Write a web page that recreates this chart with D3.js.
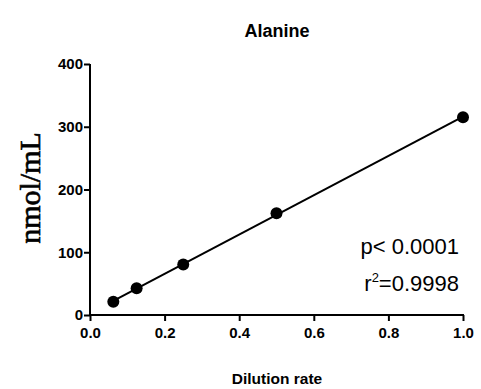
<!DOCTYPE html>
<html><head><meta charset="utf-8">
<script src="https://cdn.jsdelivr.net/npm/d3@7"></script>
<style>body{margin:0;background:#fff}svg{display:block}</style>
</head><body>
<script>
const xValues = [0.0625, 0.125, 0.25, 0.5, 1.0];
const yValues = [21, 42.5, 80.5, 162, 315];
const xTicks = [0, 0.2, 0.4, 0.6, 0.8, 1.0];
const yTicks = [0, 100, 200, 300, 400];
const title = "Alanine";
const xLabel = "Dilution rate";
const yLabel = "nmol/mL";
const statLines = ["p< 0.0001", "0.9998"];

const W = 481, H = 389;
const svg = d3.select("body").append("svg").attr("width", W).attr("height", H);
const x = d3.scaleLinear().domain([0, 1]).range([90, 463]);
const y = d3.scaleLinear().domain([0, 400]).range([315, 64]);
const font = "'Liberation Sans', Arial, sans-serif";

const xa = svg.append("g").attr("transform", "translate(0,315)")
  .call(d3.axisBottom(x).tickValues(xTicks).tickFormat(d3.format(".1f")).tickSizeOuter(0).tickSize(6).tickPadding(6));
const ya = svg.append("g").attr("transform", "translate(90,0)")
  .call(d3.axisLeft(y).tickValues(yTicks).tickFormat(d3.format("d")).tickSizeOuter(0).tickSize(6).tickPadding(1));
[xa, ya].forEach(a => {
  a.select(".domain").attr("stroke", "#000").attr("stroke-width", 2);
  a.selectAll(".tick line").attr("stroke", "#000").attr("stroke-width", 2);
  a.selectAll(".tick text").attr("fill", "#000").style("font-family", font).style("font-weight", "bold").style("font-size", "15px");
});
xa.select(".domain").attr("d", `M${x(0)},0H${x(1)+1}`);
ya.select(".domain").attr("d", `M0,${y(400)}V${y(0)+1}`);

// linear regression fit
const n = xValues.length;
const mx = d3.mean(xValues), my = d3.mean(yValues);
let sxy = 0, sxx = 0;
for (let i = 0; i < n; i++) { sxy += (xValues[i]-mx)*(yValues[i]-my); sxx += (xValues[i]-mx)**2; }
const slope = sxy / sxx, icpt = my - slope * mx;
const x0 = d3.min(xValues), x1 = d3.max(xValues);
svg.append("line").attr("x1", x(x0)).attr("y1", y(icpt + slope*x0))
  .attr("x2", x(x1)).attr("y2", y(icpt + slope*x1)).attr("stroke", "#000").attr("stroke-width", 2);

svg.selectAll("circle.pt").data(xValues).join("circle").attr("class", "pt")
  .attr("cx", d => x(d)).attr("cy", (d, i) => y(yValues[i])).attr("r", 6).attr("fill", "#000");

svg.append("text").attr("x", 277).attr("y", 37).attr("text-anchor", "middle")
  .style("font-family", font).style("font-weight", "bold").style("font-size", "18px").text(title);
svg.append("text").attr("x", 277).attr("y", 384).attr("text-anchor", "middle")
  .style("font-family", font).style("font-weight", "bold").style("font-size", "15.5px").text(xLabel);
svg.append("text").attr("transform", "translate(40,188) rotate(-90)").attr("text-anchor", "middle")
  .attr("stroke", "#000").attr("stroke-width", 0.6)
  .style("font-family", "'Liberation Serif', 'Times New Roman', serif").style("font-size", "30px").text(yLabel);

svg.append("text").attr("x", 459).attr("y", 254).attr("text-anchor", "end")
  .style("font-family", font).style("font-size", "22px").text(statLines[0]);
const t2 = svg.append("text").attr("x", 459).attr("y", 291).attr("text-anchor", "end")
  .style("font-family", font).style("font-size", "22px");
t2.append("tspan").text("r");
t2.append("tspan").attr("dy", -9).style("font-size", "13px").text("2");
t2.append("tspan").attr("dy", 9).text("=" + statLines[1]);
</script>
</body></html>
